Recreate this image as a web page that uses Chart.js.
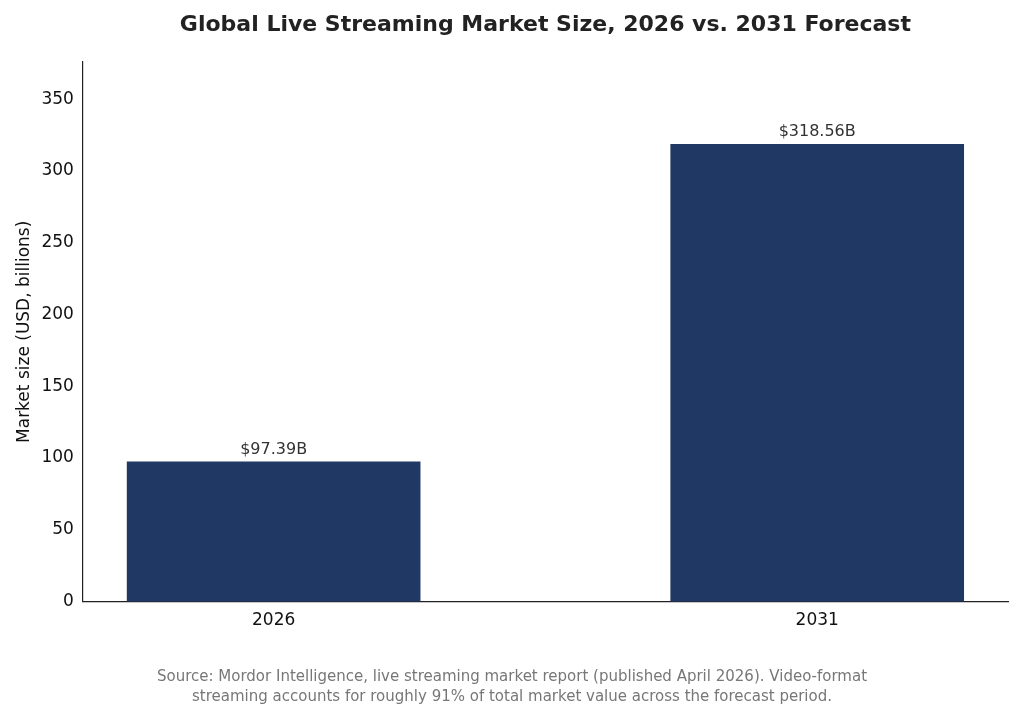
<!DOCTYPE html>
<html><head><meta charset="utf-8">
<script src="https://cdn.jsdelivr.net/npm/chart.js@4"></script>
<style>html,body{margin:0;padding:0;background:#fff}#w{position:relative;width:1024px;height:721px}</style>
</head><body><div id="w"><canvas id="c" width="1024" height="721"></canvas></div>
<script>
const years = ["2026", "2031"];
const values = [97.39, 318.56];
const valueLabels = ["$97.39B", "$318.56B"];
const yTicks = [0, 50, 100, 150, 200, 250, 300, 350];
const titleText = "Global Live Streaming Market Size, 2026 vs. 2031 Forecast";
const footer = ["Source: Mordor Intelligence, live streaming market report (published April 2026). Video-format", "streaming accounts for roughly 91% of total market value across the forecast period."];

const F = "'DejaVu Sans', sans-serif";
const labelsPlugin = {
  id: 'lbl',
  afterDatasetsDraw(chart) {
    const ctx = chart.ctx;
    const meta = chart.getDatasetMeta(0);
    ctx.save();
    ctx.font = "16px " + F; ctx.fillStyle = "#333"; ctx.textAlign = "center"; ctx.textBaseline = "bottom";
    meta.data.forEach((b, i) => ctx.fillText(valueLabels[i], b.x, b.y - 4));
    ctx.restore();
  },
  afterDraw(chart) {
    const ctx = chart.ctx; const a = chart.chartArea;
    ctx.save();
    ctx.font = "bold 22px " + F; ctx.fillStyle = "#222"; ctx.textAlign = "center"; ctx.textBaseline = "middle";
    ctx.fillText(titleText, (a.left + a.right) / 2, 25);
    ctx.font = "15px " + F; ctx.fillStyle = "#777";
    ctx.fillText(footer[0], 512, 677);
    ctx.fillText(footer[1], 512, 697);
    ctx.restore();
  }
};

new Chart(document.getElementById('c'), {
  type: 'bar',
  data: { datasets: [{ data: values.map((v, i) => ({ x: i, y: v })), backgroundColor: '#203864', barThickness: 293 }] },
  options: {
    responsive: false, animation: false,
    layout: { padding: { left: 10, right: 16, top: 62, bottom: 87 } },
    plugins: { legend: { display: false }, tooltip: { enabled: false } },
    scales: {
      x: {
        type: 'linear', min: -0.351, max: 1.351, offset: false,
        afterBuildTicks: s => { s.ticks = years.map((y, i) => ({ value: i })); },
        ticks: { callback: v => years[v], font: { size: 17, family: F }, color: '#111' },
        grid: { display: false, drawTicks: true, tickLength: 6, tickColor: '#222', offset: false },
        border: { color: '#222', width: 1.2 }
      },
      y: {
        min: 0, max: 375.9,
        afterBuildTicks: s => { s.ticks = yTicks.map(v => ({ value: v })); },
        ticks: { font: { size: 17, family: F }, color: '#111' },
        grid: { display: false, drawTicks: true, tickLength: 6, tickColor: '#222' },
        border: { color: '#222', width: 1.2 },
        title: { display: true, text: 'Market size (USD, billions)', font: { size: 17, family: F }, color: '#111' }
      }
    }
  },
  plugins: [labelsPlugin]
});
</script></body></html>
